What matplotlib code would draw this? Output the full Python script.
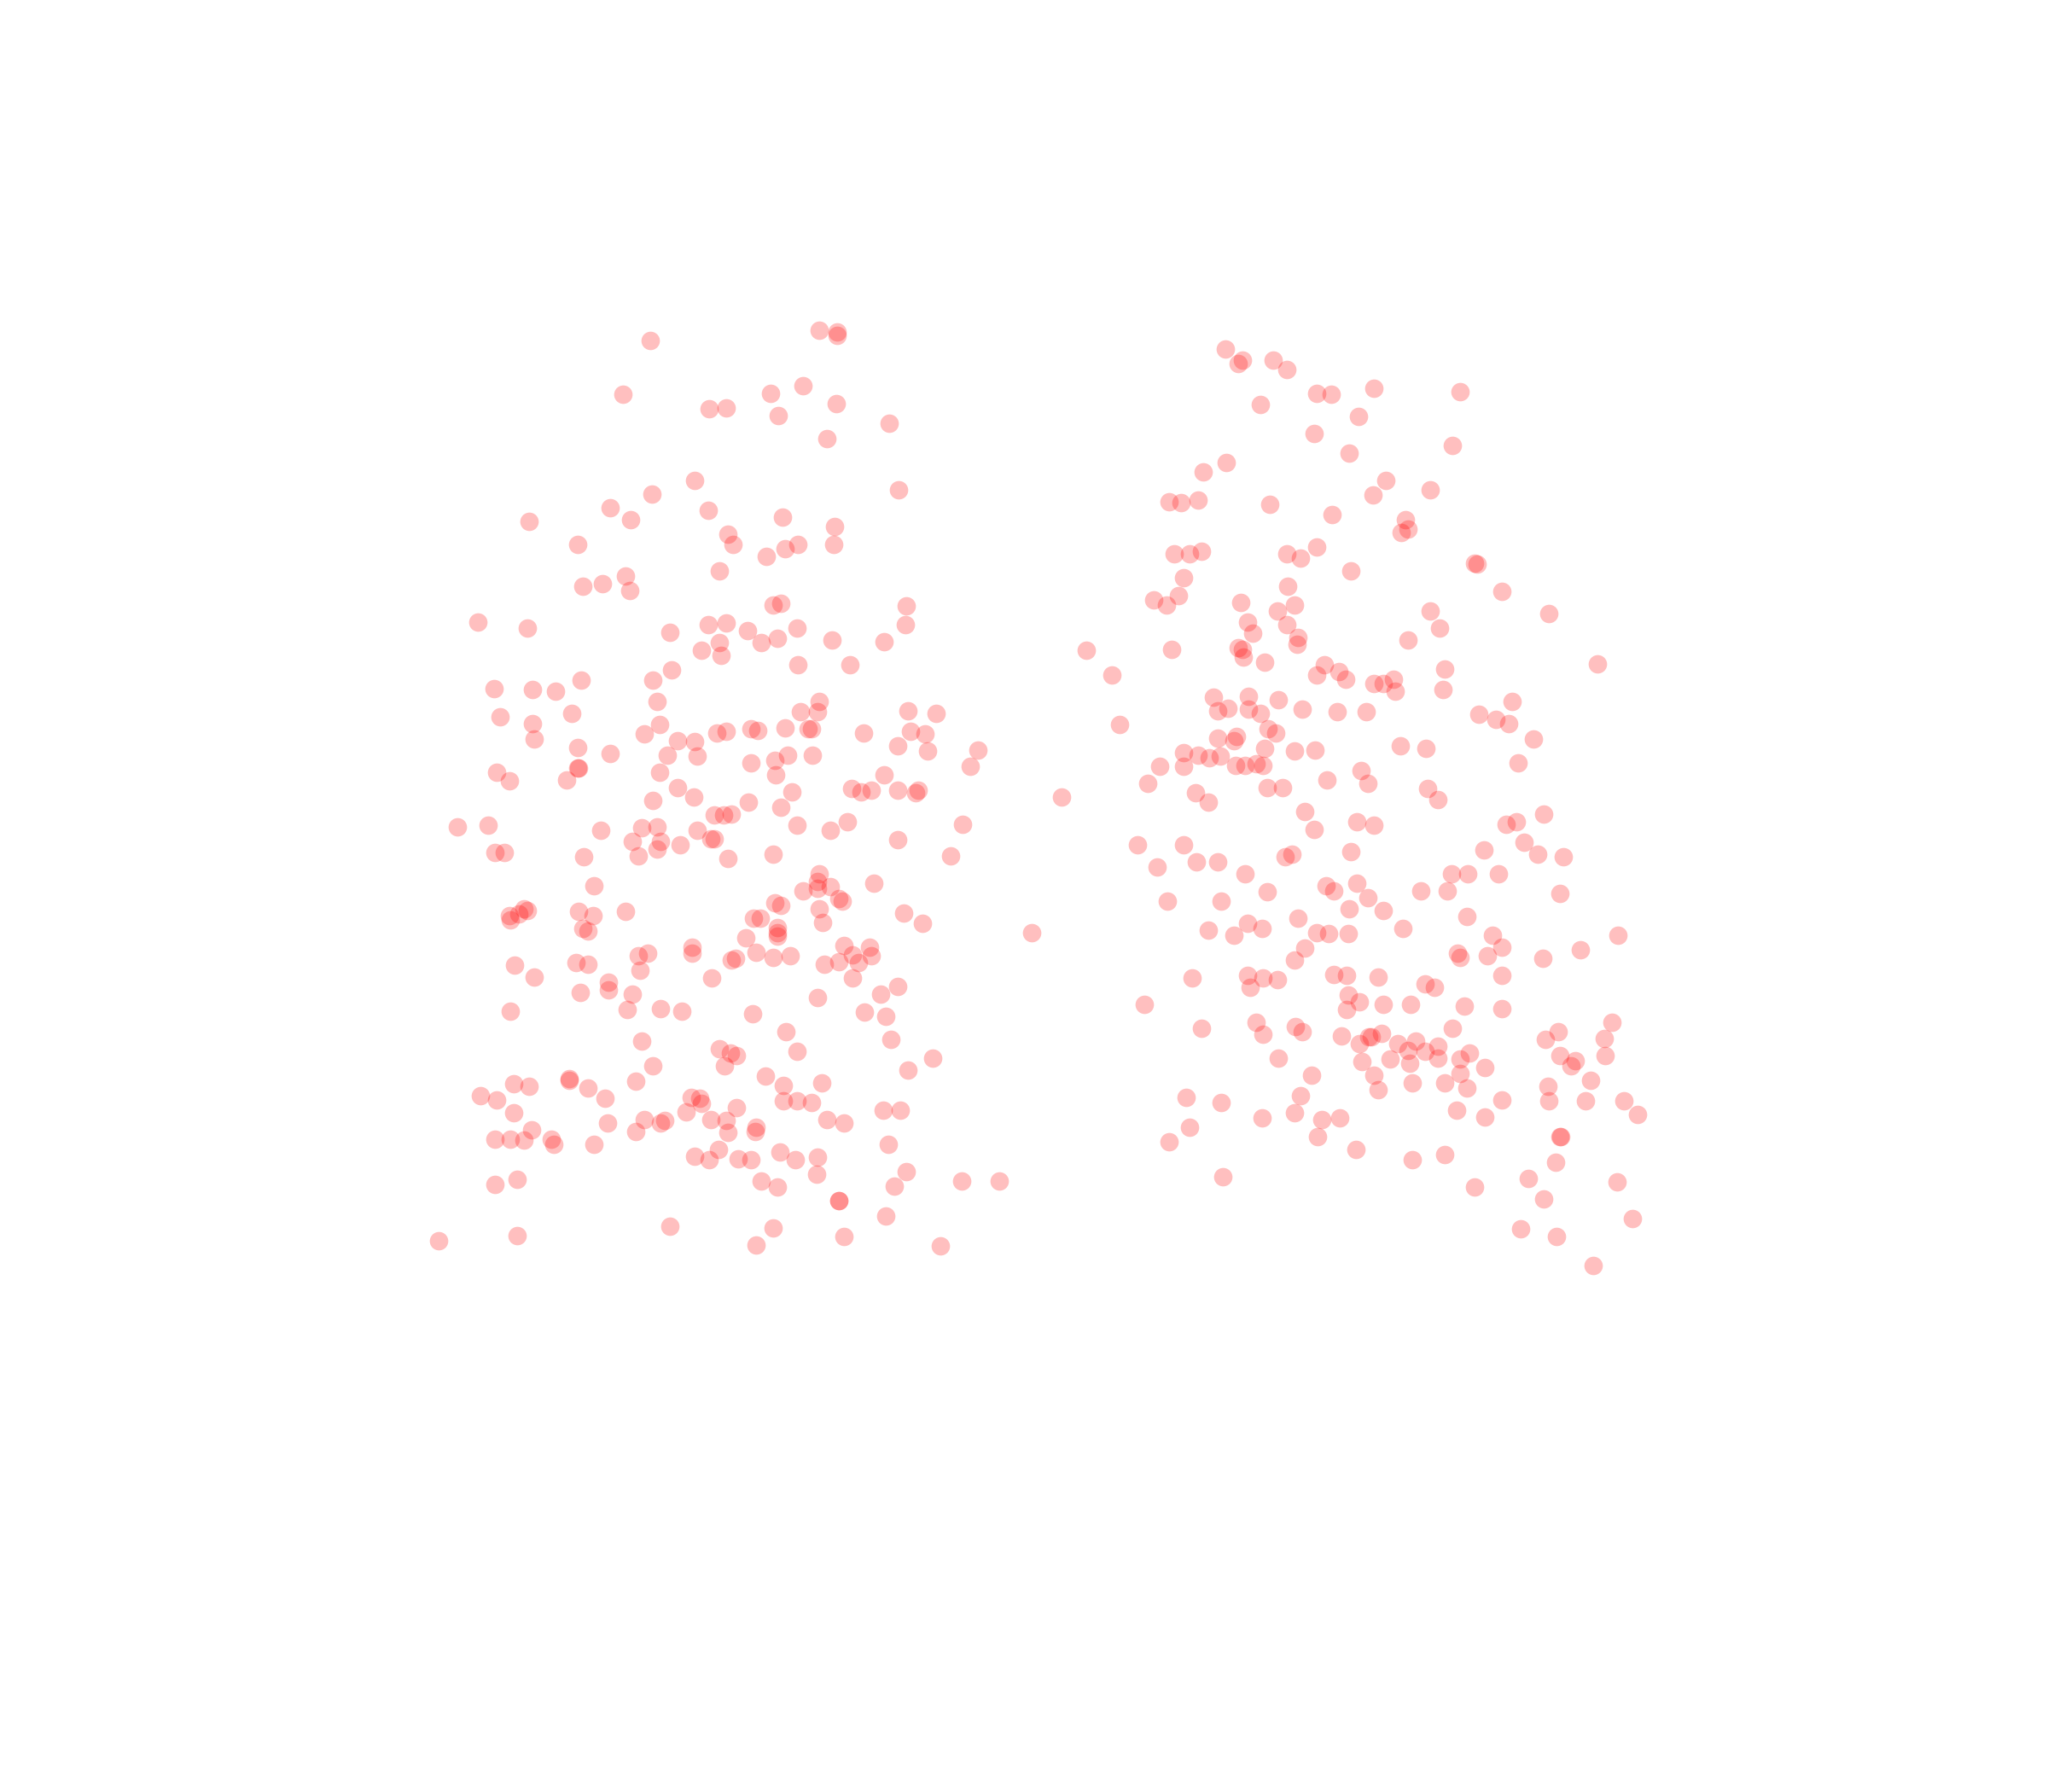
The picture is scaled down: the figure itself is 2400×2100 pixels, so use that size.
import numpy as np
import matplotlib
matplotlib.use('Agg')
import matplotlib.pyplot as plt

# point positions, (x, y) on a 1568 x 1372 grid, y going down
left_cloud = [
    (498,261),(627,253),(641,254),(641,257),(477,302),(590,301),(615,295),(543,313),(556,312),(596,318),
    (640,309),(681,324),(633,336),(532,368),(688,375),(499,378),(467,389),(483,398),(405,399),(542,391),
    (599,396),(639,403),(557,409),(561,417),(442,417),(601,420),(611,417),(638,417),(587,426),(551,437),
    (479,441),(446,449),(461,447),(482,452),(592,463),(598,462),(694,464),(366,476),(404,481),(542,478),
    (556,477),(610,481),(693,478),(513,484),(572,483),(595,489),(583,492),(551,492),(537,498),(552,502),
    (637,490),(677,491),(611,509),(651,509),(514,513),(500,521),(445,521),(378,527),(408,528),(425,529),
    (503,537),(627,537),(383,549),(438,546),(408,554),(505,555),(613,545),(626,545),(695,544),(717,546),
    (409,566),(493,562),(549,561),(556,560),(575,558),(580,559),(601,557),(619,558),(621,558),(661,561),
    (697,560),(708,562),(519,567),(532,568),(442,572),(467,577),(511,578),(534,579),(575,584),(593,582),
    (603,578),(622,578),(687,571),(710,575),(749,574),(743,587),(380,591),(390,598),(442,588),(443,588),
    (434,597),(505,591),(594,593),(677,593),(519,603),(531,610),(500,613),(573,614),(606,606),(652,604),
    (659,606),(667,605),(687,605),(703,605),(701,607),(598,618),(547,624),(554,624),(560,623),(649,629),
    (737,631),(350,633),(374,632),(491,634),(503,633),(610,632),(636,636),(534,636),(460,636),(379,653),
    (386,653),(484,644),(506,644),(521,647),(544,642),(547,642),(687,643),(447,656),(489,655),(503,650),
    (557,657),(592,654),(728,655),(627,669),(455,678),(626,675),(615,682),(626,680),(636,679),(669,676),
    (642,688),(645,690),(593,691),(598,693),(627,696),(479,698),(443,698),(454,701),(390,701),(391,704),
    (397,700),(401,696),(404,697),(577,703),(582,703),(692,699),(630,706),(706,707),(446,711),(450,713),
    (595,710),(595,714),(595,717),(571,718),(530,725),(530,730),(646,724),(666,725),(489,732),(496,730),
    (579,729),(592,733),(605,732),(560,735),(563,734),(653,731),(667,732),(642,736),(657,737),(631,738),
    (441,737),(450,738),(394,739),(409,748),(490,743),(545,749),(653,749),(466,752),(466,758),(444,760),
    (484,761),(687,755),(674,761),(626,764),(391,774),(480,773),(506,772),(522,774),(576,776),(662,775),
    (678,778),(602,790),(682,796),(491,797),(551,803),(559,806),(564,808),(610,805),(714,810),
    (500,816),(555,816),(695,819),(586,824),(436,826),(436,827),(393,830),(405,832),(487,828),(450,833),
    (600,831),(629,829),(368,839),(380,842),(463,841),(529,840),(536,841),(537,845),(600,843),(610,843),
    (621,844),(564,848),(525,851),(676,850),(689,850),(393,852),(544,857),(556,858),(493,857),(465,860),
    (509,858),(506,860),(633,857),(646,860),(407,865),(579,863),(578,866),(557,867),(422,872),(379,872),
    (391,872),(401,873),(424,876),(455,876),(487,866),(680,876),(550,880),(532,885),(543,888),(565,887),
    (575,888),(597,882),(609,888),(626,886),(625,899),(694,897),(583,904),(595,909),(685,908),(736,904),
    (765,904),(379,907),(396,903),(642,919),(642,919),(678,931),(513,939),(592,940),(336,950),(396,946),
    (579,953),(646,947),(720,954),
]

right_cloud = [
    (938,267),(951,276),(948,278),(975,276),(985,283),(1052,297),(1118,300),(1008,301),(1019,302),(965,310),
    (1040,319),(1006,332),(1112,341),(1033,347),(939,354),(921,361),(1061,368),(1095,375),(895,384),(904,385),
    (917,383),(972,386),(1051,379),(1020,394),(1076,398),(1078,405),(1073,408),(899,424),(911,424),(920,422),
    (985,424),(996,427),(1008,419),(1034,437),(1129,431),(1131,432),(906,442),(986,449),(1150,453),(883,459),
    (893,463),(902,456),(950,461),(991,463),(978,468),(1095,468),(1186,470),(955,476),(985,478),(1102,481),
    (959,485),(994,488),(993,493),(1078,490),(832,498),(897,497),(948,496),(951,497),(952,503),(968,507),
    (1014,509),(1025,514),(1030,520),(1008,517),(1106,512),(1223,508),(851,517),(1052,523),(1059,523),(1067,520),
    (1068,529),(1105,528),(929,534),(956,533),(979,536),(1158,537),(932,544),(940,542),(956,543),(965,546),
    (997,543),(1024,545),(1046,545),(1132,547),(1145,551),(1155,554),(857,555),(971,558),(977,561),(1174,566),
    (932,565),(947,564),(945,567),(968,573),(991,575),(1007,574),(1072,571),(1092,573),(906,576),(917,578),
    (926,580),(934,579),(1162,584),(888,587),(906,587),(946,586),(953,586),(962,585),(967,586),(1042,590),
    (1016,597),(1047,600),(879,600),(970,603),(982,603),(1093,604),(915,607),(925,614),(813,610),(1101,612),
    (999,621),(1182,623),(1039,629),(1052,632),(1153,631),(1161,629),(1006,635),(871,647),(906,647),(1167,645),
    (1136,651),(1034,652),(984,656),(989,654),(1177,654),(1197,656),(886,664),(916,660),(932,660),(953,669),
    (1111,669),(1124,669),(1147,669),(1015,678),(1021,682),(1039,676),(970,683),(1047,687),(1088,682),(1108,682),
    (1194,684),(894,690),(935,690),(1033,696),(1059,697),(994,703),(1123,702),(955,707),(925,712),(945,716),
    (966,711),(1008,714),(1017,715),(1032,715),(1074,711),(1143,716),(790,714),(1239,716),(1150,725),(999,726),
    (1210,727),(1116,730),(1118,733),(1139,732),(991,735),(1181,734),(955,747),(967,749),(978,750),(913,749),
    (1021,746),(1031,747),(1055,748),(1150,747),(957,756),(1091,753),(1098,756),(1032,762),(1041,767),(1031,773),
    (1059,769),(1080,769),(1121,770),(1150,772),(876,769),(962,783),(1234,783),(920,787),(967,792),(992,786),
    (997,790),(1112,787),(1027,793),(1048,794),(1050,794),(1058,791),(1041,799),(1193,790),(1228,795),(1183,796),
    (1070,799),(1084,797),(1101,801),(1125,806),(1078,804),(1091,805),(979,810),(1043,813),(1064,811),(1079,814),
    (1101,810),(1118,811),(1194,808),(1206,812),(1203,816),(1229,808),(1052,823),(1137,817),(1118,822),(1004,823),
    (1081,829),(1106,829),(1123,833),(1185,832),(1218,827),(1055,834),(908,840),(996,839),(935,844),(1150,842),
    (1186,843),(1214,843),(1243,843),(991,852),(1115,850),(966,856),(1012,857),(1026,856),(1137,855),(1254,853),
    (911,863),(895,874),(1009,870),(1194,870),(1195,870),(1038,880),(1106,884),(1081,888),(1191,890),(936,901),
    (1170,902),(1129,909),(1238,905),(1182,918),(1250,933),(1164,941),(1192,947),(1220,969),
]

left_x, left_y = np.array(left_cloud).T
right_x, right_y = np.array(right_cloud).T

fig = plt.figure(figsize=(8, 7), dpi=300)
ax = fig.add_axes([0, 0, 1, 1])
ax.scatter(left_x, left_y, s=27, color='red', alpha=0.25, linewidths=0)
ax.scatter(right_x, right_y, s=27, color='red', alpha=0.25, linewidths=0)
ax.set_xlim(0, 1568)
ax.set_ylim(1372, 0)
ax.axis('off')

fig.savefig('out.png', dpi=300, facecolor='white')
